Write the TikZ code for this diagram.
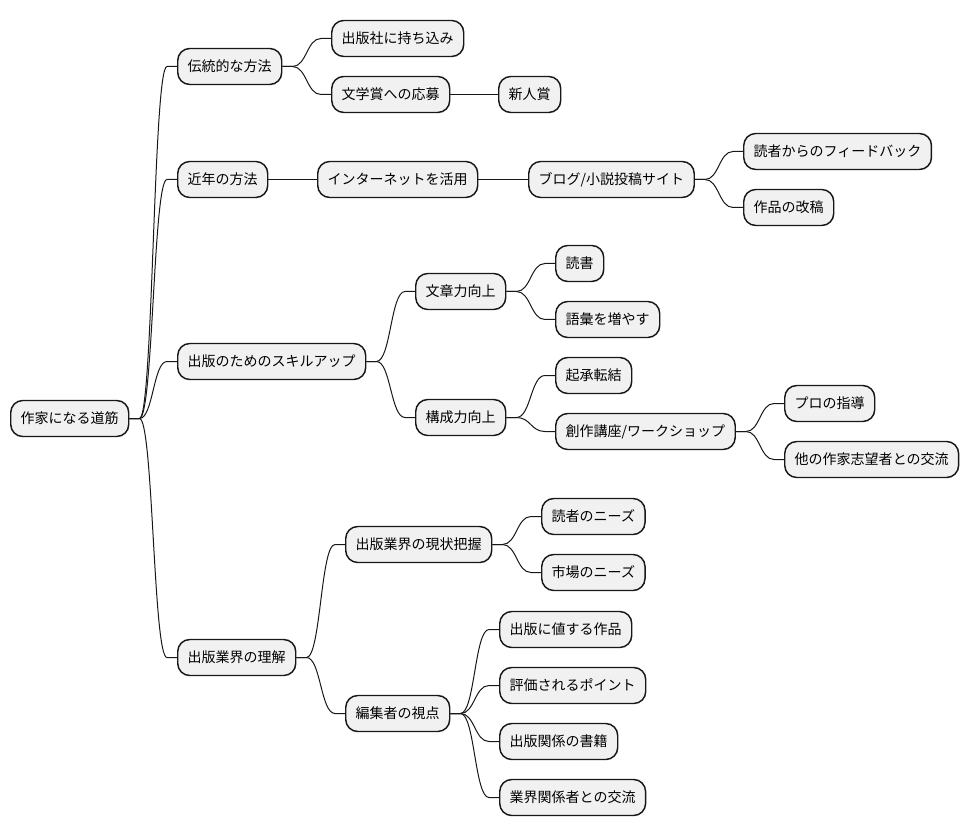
\documentclass[tikz,border=0pt]{standalone}
\usepackage{fontspec}
\setmainfont{Noto Sans CJK JP}
\usetikzlibrary{calc}
\definecolor{boxfill}{HTML}{F1F1F1}
\definecolor{boxline}{HTML}{181818}
\tikzset{
  mm/.style={draw=boxline, fill=boxfill, line width=1.1pt, rounded corners=9pt,
    anchor=west, minimum height=27pt, inner xsep=7.5pt, inner ysep=0pt,
    font=\fontsize{10.5pt}{12pt}\selectfont, text=black},
  cline/.style={draw=boxline, line width=0.75pt}
}
\newcommand\mmconn[2]{%
  \path ([xshift=7.5pt]#1.east) coordinate (cs) ([xshift=-7.5pt]#2.west) coordinate (ct)
        ($(cs)!0.5!(ct)$) coordinate (cm);
  \draw[cline] (#1.east) -- (cs) .. controls (cm |- cs) and (cm |- ct) .. (ct) -- (#2.west);
}
\begin{document}
\begin{tikzpicture}[x=0.75pt,y=-0.75pt]
\useasboundingbox (0,0) rectangle (969,837);
\node[mm] (root) at (10,418.5) {作家になる道筋};
\node[mm] (trad) at (177,66.5) {伝統的な方法};
\node[mm] (mochi) at (331,38.5) {出版社に持ち込み};
\node[mm] (bungaku) at (331,94.5) {文学賞への応募};
\node[mm] (shinjin) at (498,94.5) {新人賞};
\node[mm] (kinnen) at (177,179.5) {近年の方法};
\node[mm] (inet) at (317,179.5) {インターネットを活用};
\node[mm] (blog) at (528,179.5) {ブログ/小説投稿サイト};
\node[mm] (fb) at (743,151.5) {読者からのフィードバック};
\node[mm] (kaiko) at (743,207.5) {作品の改稿};
\node[mm] (skill) at (177,361.5) {出版のためのスキルアップ};
\node[mm] (bunsho) at (415,291.5) {文章力向上};
\node[mm] (dokusho) at (555,263.5) {読書};
\node[mm] (goi) at (555,319.5) {語彙を増やす};
\node[mm] (kosei) at (415,417.5) {構成力向上};
\node[mm] (kisho) at (555,375.5) {起承転結};
\node[mm] (koza) at (555,431.5) {創作講座/ワークショップ};
\node[mm] (pro) at (784,403.5) {プロの指導};
\node[mm] (koryu) at (784,459.5) {他の作家志望者との交流};
\node[mm] (rikai) at (177,657.5) {出版業界の理解};
\node[mm] (genjo) at (345,544.5) {出版業界の現状把握};
\node[mm] (dneeds) at (541,516.5) {読者のニーズ};
\node[mm] (mneeds) at (541,572.5) {市場のニーズ};
\node[mm] (henshu) at (345,713.5) {編集者の視点};
\node[mm] (atai) at (499,629.5) {出版に値する作品};
\node[mm] (hyoka) at (499,685.5) {評価されるポイント};
\node[mm] (shoseki) at (499,741.5) {出版関係の書籍};
\node[mm] (gyokai) at (499,797.5) {業界関係者との交流};
\mmconn{root}{trad}
\mmconn{root}{kinnen}
\mmconn{root}{skill}
\mmconn{root}{rikai}
\mmconn{trad}{mochi}
\mmconn{trad}{bungaku}
\mmconn{bungaku}{shinjin}
\mmconn{kinnen}{inet}
\mmconn{inet}{blog}
\mmconn{blog}{fb}
\mmconn{blog}{kaiko}
\mmconn{skill}{bunsho}
\mmconn{skill}{kosei}
\mmconn{bunsho}{dokusho}
\mmconn{bunsho}{goi}
\mmconn{kosei}{kisho}
\mmconn{kosei}{koza}
\mmconn{koza}{pro}
\mmconn{koza}{koryu}
\mmconn{rikai}{genjo}
\mmconn{rikai}{henshu}
\mmconn{genjo}{dneeds}
\mmconn{genjo}{mneeds}
\mmconn{henshu}{atai}
\mmconn{henshu}{hyoka}
\mmconn{henshu}{shoseki}
\mmconn{henshu}{gyokai}
\end{tikzpicture}
\end{document}
